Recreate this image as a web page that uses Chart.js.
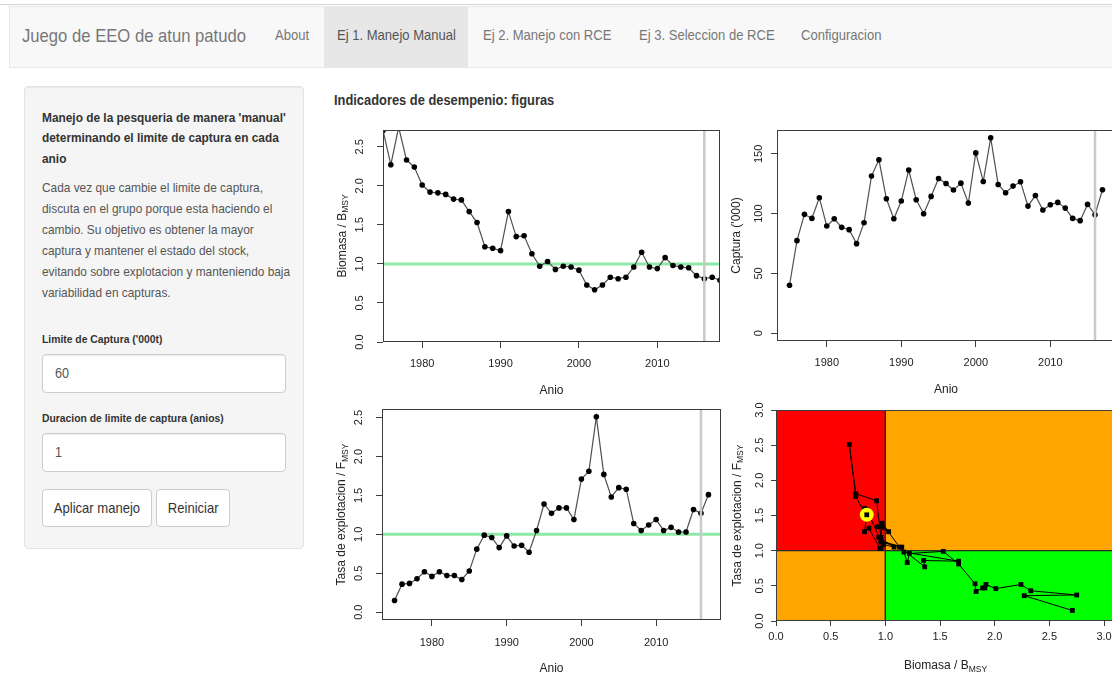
<!DOCTYPE html>
<html lang="es">
<head>
<meta charset="utf-8">
<title>Juego de EEO de atun patudo</title>
<script src="https://cdn.jsdelivr.net/npm/chart.js@4.4.1/dist/chart.umd.min.js"></script>
<style>
  html, body { margin:0; padding:0; width:1112px; height:674px; overflow:hidden; background:#fff;
    font-family:"Liberation Sans", Arial, Helvetica, sans-serif; color:#333; }
  .abs { position:absolute; }
  .sq { display:inline-block; white-space:nowrap; transform:scaleX(0.9); transform-origin:0 50%; }
  .sqc { display:inline-block; white-space:nowrap; transform:scaleX(0.9); transform-origin:50% 50%; }
  #topline { left:0; top:4px; width:1112px; height:1px; background:#d2d2d2; }
  #navbar { left:9px; top:6px; width:1110px; height:60px; background:#f8f8f8; border:1px solid #e7e7e7; }
  #active { left:324px; top:7px; width:144px; height:60px; background:#e7e7e7; }
  .nav { top:6px; height:59px; line-height:59px; font-size:14.5px; color:#777; }
  .nav.on { color:#555; }
  #brand { left:22px; top:6px; height:59px; line-height:59px; font-size:18.5px; color:#777; }
  #well { left:24px; top:86px; width:278px; height:461px; background:#f5f5f5; border:1px solid #e3e3e3;
    border-radius:4px; box-shadow: inset 0 1px 1px rgba(0,0,0,.05); }
  #wellHead { left:42px; top:108px; font-size:13.2px; font-weight:bold; line-height:20.3px; color:#333; }
  #wellText { left:42px; top:177px; font-size:13.2px; line-height:21px; color:#555; }
  .lbl { left:42px; font-size:11.5px; font-weight:bold; line-height:16px; color:#333; }
  .inp { left:42px; width:242px; height:37px; background:#fff; border:1px solid #ccc; border-radius:4px;
    box-shadow: inset 0 1px 1px rgba(0,0,0,.075); font-size:14px; line-height:37px; color:#555; }
  .inp span { margin-left:12px; }
  .btn { top:489px; height:36px; background:#fff; border:1px solid #ccc; border-radius:4px; font-size:14.5px;
    line-height:36px; color:#333; text-align:center; }
  #mainHead { left:334px; top:91px; font-size:14.3px; font-weight:bold; line-height:18px; color:#333; }
  canvas { position:absolute; }
</style>
</head>
<body>
<div id="topline" class="abs"></div>
<div id="navbar" class="abs"></div>
<div id="active" class="abs"></div>
<div id="brand" class="abs"><span class="sq">Juego de EEO de atun patudo</span></div>
<div class="abs nav" style="left:275px"><span class="sq">About</span></div>
<div class="abs nav on" style="left:337px"><span class="sq">Ej 1. Manejo Manual</span></div>
<div class="abs nav" style="left:483px"><span class="sq">Ej 2. Manejo con RCE</span></div>
<div class="abs nav" style="left:639px"><span class="sq">Ej 3. Seleccion de RCE</span></div>
<div class="abs nav" style="left:801px"><span class="sq">Configuracion</span></div>

<div id="well" class="abs"></div>
<div id="wellHead" class="abs"><span class="sq">Manejo de la pesqueria de manera 'manual'<br>determinando el limite de captura en cada<br>anio</span></div>
<div id="wellText" class="abs"><span class="sq">Cada vez que cambie el limite de captura,<br>discuta en el grupo porque esta haciendo el<br>cambio. Su objetivo es obtener la mayor<br>captura y mantener el estado del stock,<br>evitando sobre explotacion y manteniendo baja<br>variabilidad en capturas.</span></div>
<div class="abs lbl" style="top:331px"><span class="sq">Limite de Captura ('000t)</span></div>
<div class="abs inp" style="top:354px"><span class="sq">60</span></div>
<div class="abs lbl" style="top:410px"><span class="sq">Duracion de limite de captura (anios)</span></div>
<div class="abs inp" style="top:433px"><span class="sq">1</span></div>
<div class="abs btn" style="left:42px;width:108px"><span class="sqc">Aplicar manejo</span></div>
<div class="abs btn" style="left:156px;width:72px"><span class="sqc">Reiniciar</span></div>

<div id="mainHead" class="abs"><span class="sq">Indicadores de desempenio: figuras</span></div>

<canvas id="chartBiomasa" width="398" height="290" style="left:325px;top:115px"></canvas>
<canvas id="chartCaptura" width="398" height="290" style="left:722px;top:115px"></canvas>
<canvas id="chartTasa" width="398" height="274" style="left:325px;top:400px"></canvas>
<canvas id="chartKobe" width="398" height="274" style="left:722px;top:400px"></canvas>

<script>
// ---- data -------------------------------------------------------------
const years = [1975, 1976, 1977, 1978, 1979, 1980, 1981, 1982, 1983, 1984,
               1985, 1986, 1987, 1988, 1989, 1990, 1991, 1992, 1993, 1994,
               1995, 1996, 1997, 1998, 1999, 2000, 2001, 2002, 2003, 2004,
               2005, 2006, 2007, 2008, 2009, 2010, 2011, 2012, 2013, 2014,
               2015, 2016, 2017, 2018];

// B / BMSY, 1975-2018
const biomasa = [2.71, 2.27, 2.75, 2.33, 2.24, 2.01, 1.92, 1.91, 1.89, 1.83,
                 1.82, 1.67, 1.53, 1.22, 1.20, 1.17, 1.67, 1.35, 1.36, 1.13,
                 0.97, 1.03, 0.93, 0.97, 0.96, 0.92, 0.73, 0.67, 0.73, 0.83,
                 0.81, 0.83, 0.96, 1.15, 0.96, 0.94, 1.08, 0.98, 0.96, 0.95,
                 0.85, 0.81, 0.83, 0.79];

// catch ('000 t), 1975-2017
const captura = [40.1, 77.4, 99.4, 96.0, 113.3, 89.6, 95.7, 88.5, 86.6, 74.9,
                 92.4, 131.4, 145.0, 112.4, 95.7, 110.5, 136.4, 111.6, 99.9, 114.4,
                 129.4, 125.2, 119.7, 125.5, 108.8, 150.8, 126.9, 163.4, 124.4, 117.5,
                 123.0, 126.6, 106.3, 115.2, 103.0, 107.4, 109.4, 104.6, 96.0, 94.1,
                 107.7, 99.1, 120.0];

// F / FMSY, 1975-2017
const tasa = [0.15, 0.36, 0.37, 0.43, 0.52, 0.46, 0.52, 0.47, 0.47, 0.42,
              0.53, 0.81, 0.99, 0.96, 0.83, 0.98, 0.85, 0.86, 0.77, 1.05,
              1.39, 1.27, 1.34, 1.34, 1.19, 1.71, 1.81, 2.51, 1.77, 1.48,
              1.60, 1.58, 1.14, 1.05, 1.12, 1.19, 1.05, 1.09, 1.03, 1.03,
              1.32, 1.27, 1.51];

const currentYear = 2016;      // start of the management period
const refPoint = 1;            // B/BMSY = 1 and F/FMSY = 1

const yearTicks = [1980, 1990, 2000, 2010];
const ratioTicks = [0, 0.5, 1, 1.5, 2, 2.5];
const catchTicks = [0, 50, 100, 150];
const kobeTicks = [0, 0.5, 1, 1.5, 2, 2.5, 3];

// ---- shared look --------------------------------------------------------
const FAMILY = '"Liberation Sans", Arial, Helvetica, sans-serif';
Chart.defaults.font.family = FAMILY;
const INK = '#3c3c3c';
const LABEL_INK = '#222';
const LINE_INK = '#505050';
const REF_GREEN = '#8ee8a6';
const NOW_GREY = '#c9c9c9';

const fmt1 = v => Number(v).toFixed(1);
const fmt0 = v => String(v);

function axisX({ min, max, ticks, fmt, height, tickLength, pad }) {
  return {
    type: 'linear', position: 'bottom', min, max,
    grid: { display: true, drawOnChartArea: false, drawTicks: true, tickLength, color: INK, lineWidth: 1 },
    border: { display: false },
    ticks: { color: LABEL_INK, font: { size: 11 }, padding: pad, autoSkip: false,
             minRotation: 0, maxRotation: 0, callback: fmt },
    afterBuildTicks: s => { s.ticks = ticks.map(value => ({ value })); },
    afterFit: s => { s.height = height; s.paddingLeft = 0; s.paddingRight = 0; }
  };
}

function axisY({ min, max, ticks, fmt, width, tickLength, pad }) {
  return {
    type: 'linear', position: 'left', min, max,
    grid: { display: true, drawOnChartArea: false, drawTicks: true, tickLength, color: INK, lineWidth: 1 },
    border: { display: false },
    ticks: { color: LABEL_INK, font: { size: 11 }, padding: pad, autoSkip: false,
             minRotation: 90, maxRotation: 90, crossAlign: 'center', callback: fmt },
    afterBuildTicks: s => { s.ticks = ticks.map(value => ({ value })); },
    afterFit: s => { s.width = width; s.paddingTop = 0; s.paddingBottom = 0; }
  };
}

// box around the plotting region
const frame = {
  id: 'frame',
  afterDraw(chart) {
    const { ctx, chartArea: a } = chart;
    ctx.save();
    ctx.strokeStyle = INK;
    ctx.lineWidth = 1;
    ctx.strokeRect(Math.round(a.left) + 0.5, Math.round(a.top) + 0.5,
                   Math.round(a.width) - 1, Math.round(a.height) - 1);
    ctx.restore();
  }
};

// axis titles with optional subscript pieces: [[text, isSubscript], ...]
function axisTitles(spec) {
  const draw = (ctx, parts, cx, cy, rot) => {
    ctx.save();
    ctx.translate(cx, cy);
    ctx.rotate(rot);
    ctx.fillStyle = LABEL_INK;
    ctx.textBaseline = 'middle';
    ctx.textAlign = 'left';
    const mainFont = '12px ' + FAMILY;
    const subFont = '8.5px ' + FAMILY;
    const widths = parts.map(([t, sub]) => { ctx.font = sub ? subFont : mainFont; return ctx.measureText(t).width; });
    let x = -widths.reduce((s, w) => s + w, 0) / 2;
    parts.forEach(([t, sub], i) => {
      ctx.font = sub ? subFont : mainFont;
      ctx.fillText(t, x, sub ? 3.5 : 0);
      x += widths[i];
    });
    ctx.restore();
  };
  return {
    id: 'axisTitles',
    afterDraw(chart) {
      const { ctx, chartArea: a } = chart;
      if (spec.x) draw(ctx, spec.x.parts, (a.left + a.right) / 2, a.bottom + spec.x.gap, 0);
      if (spec.y) draw(ctx, spec.y.parts, a.left - spec.y.gap, (a.top + a.bottom) / 2, -Math.PI / 2);
    }
  };
}

// coloured status zones behind the trajectory
function zones(list) {
  return {
    id: 'zones',
    beforeDatasetsDraw(chart) {
      const { ctx, chartArea: a, scales: { x, y } } = chart;
      ctx.save();
      ctx.beginPath();
      ctx.rect(a.left, a.top, a.width, a.height);
      ctx.clip();
      list.forEach(z => {
        const x0 = x.getPixelForValue(z.x0), x1 = x.getPixelForValue(z.x1);
        const y0 = y.getPixelForValue(z.y0), y1 = y.getPixelForValue(z.y1);
        ctx.fillStyle = z.color;
        ctx.fillRect(x0, y1, x1 - x0, y0 - y1);
        ctx.strokeStyle = '#2a2a2a';
        ctx.lineWidth = 1.2;
        ctx.strokeRect(x0, y1, x1 - x0, y0 - y1);
      });
      ctx.restore();
    }
  };
}

const baseOptions = (padding, scales, plugins) => ({
  responsive: false,
  devicePixelRatio: 1,
  animation: false,
  events: [],
  layout: { padding, autoPadding: false },
  scales,
  plugins: Object.assign({ legend: { display: false }, tooltip: { enabled: false } }, plugins || {})
});

const seriesStyle = {
  borderColor: LINE_INK, borderWidth: 1.2, tension: 0,
  pointRadius: 2.8, pointBackgroundColor: '#000', pointBorderWidth: 0, order: 1
};

function timeSeriesChart(id, { values, xMin, xMax, yMin, yMax, yTicks, yFmt, refLine, pad, yWidth, xHeight, yTickPad, xTickPad, yTitle }) {
  const pts = values.map((v, i) => ({ x: years[i], y: v }));
  const datasets = [Object.assign({ data: pts }, seriesStyle)];
  if (refLine !== undefined) {
    datasets.push({ data: [{ x: xMin, y: refLine }, { x: xMax, y: refLine }],
                    borderColor: REF_GREEN, borderWidth: 3, pointRadius: 0, order: 2 });
  }
  datasets.push({ data: [{ x: currentYear, y: yMin }, { x: currentYear, y: yMax }],
                  borderColor: NOW_GREY, borderWidth: 2.5, pointRadius: 0, order: 0 });
  return new Chart(document.getElementById(id), {
    type: 'line',
    data: { datasets },
    options: baseOptions(pad, {
      x: axisX({ min: xMin, max: xMax, ticks: yearTicks, fmt: fmt0, height: xHeight, tickLength: 6, pad: xTickPad }),
      y: axisY({ min: yMin, max: yMax, ticks: yTicks, fmt: yFmt, width: yWidth, tickLength: 6, pad: yTickPad })
    }),
    plugins: [frame, axisTitles({ x: { parts: [['Anio', false]], gap: 48.5 }, y: yTitle })]
  });
}

// Biomass relative to BMSY
timeSeriesChart('chartBiomasa', {
  values: biomasa, xMin: 1975, xMax: 2018, yMin: 0, yMax: 2.715,
  yTicks: ratioTicks, yFmt: fmt1, refLine: refPoint,
  pad: { left: 0, top: 15, right: 3, bottom: 0 }, yWidth: 58, xHeight: 63, yTickPad: 9, xTickPad: 9,
  yTitle: { parts: [['Biomasa / B', false], ['MSY', true]], gap: 40.5 }
});

// Catch
timeSeriesChart('chartCaptura', {
  values: captura, xMin: 1973.32, xMax: 2018.68, yMin: -6.54, yMax: 169.94,
  yTicks: catchTicks, yFmt: fmt0,
  pad: { left: 0, top: 15, right: 5, bottom: 0 }, yWidth: 55, xHeight: 64, yTickPad: 3, xTickPad: 9,
  yTitle: { parts: [["Captura ('000)", false]], gap: 40 }
});

// Fishing mortality relative to FMSY
timeSeriesChart('chartTasa', {
  values: tasa, xMin: 1973.32, xMax: 2018.68, yMin: -0.1004, yMax: 2.6104,
  yTicks: ratioTicks, yFmt: fmt1, refLine: refPoint,
  pad: { left: 0, top: 9, right: 2, bottom: 0 }, yWidth: 57, xHeight: 54, yTickPad: 9, xTickPad: 10,
  yTitle: { parts: [['Tasa de explotacion / F', false], ['MSY', true]], gap: 40 }
});

// Kobe plot: stock status trajectory, latest year highlighted
(function () {
  const xMin = 0, xMax = 3.1, yMin = 0, yMax = 3;
  const path = tasa.map((f, i) => ({ x: biomasa[i], y: f }));
  const last = path[path.length - 1];
  const statusZones = [
    { x0: xMin, x1: refPoint, y0: refPoint, y1: yMax, color: '#ff0000' },
    { x0: refPoint, x1: xMax, y0: refPoint, y1: yMax, color: '#ffa500' },
    { x0: xMin, x1: refPoint, y0: yMin, y1: refPoint, color: '#ffa500' },
    { x0: refPoint, x1: xMax, y0: yMin, y1: refPoint, color: '#00ff00' }
  ];
  new Chart(document.getElementById('chartKobe'), {
    type: 'line',
    data: {
      datasets: [
        { data: path, borderColor: '#000', borderWidth: 1, tension: 0, pointStyle: 'rect',
          pointRadius: 3.4, pointBackgroundColor: '#000', pointBorderWidth: 0, order: 2 },
        { data: [last], showLine: false, pointRadius: 7, pointBackgroundColor: '#ffff00',
          pointBorderWidth: 0, order: 1 },
        { data: [last], showLine: false, pointStyle: 'rect', pointRadius: 3.4,
          pointBackgroundColor: '#000', pointBorderWidth: 0, order: 0 }
      ]
    },
    options: baseOptions({ left: 0, top: 10, right: 5, bottom: 0 }, {
      x: axisX({ min: xMin, max: xMax, ticks: kobeTicks, fmt: fmt1, height: 53, tickLength: 5, pad: 4 }),
      y: axisY({ min: yMin, max: yMax, ticks: kobeTicks, fmt: fmt1, width: 54, tickLength: 5, pad: 3 })
    }),
    plugins: [zones(statusZones), frame, axisTitles({
      x: { parts: [['Biomasa / B', false], ['MSY', true]], gap: 45 },
      y: { parts: [['Tasa de explotacion / F', false], ['MSY', true]], gap: 38.7 }
    })]
  });
})();
</script>
</body>
</html>
